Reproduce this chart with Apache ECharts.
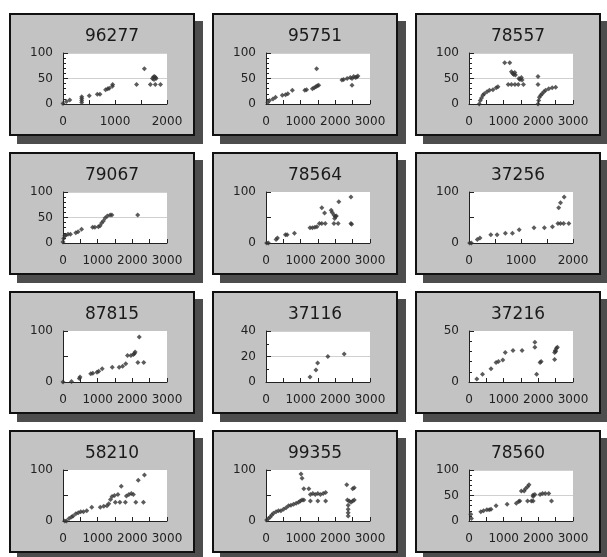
<!DOCTYPE html>
<html><head><meta charset="utf-8">
<script src="https://cdn.jsdelivr.net/npm/echarts@6/dist/echarts.min.js"></script>
<style>html,body{margin:0;padding:0;background:#fff}#c{width:607px;height:557px}</style>
</head><body><div id="c"></div>
<script>
const titles = ['96277','95751','78557','79067','78564','37256','87815','37116','37216','58210','99355','78560'];
const xMax = [2000,3000,3000,3000,3000,2000,3000,3000,3000,3000,3000,3000];
const yMax = [100,100,100,100,100,100,100,40,50,100,100,100];
const yInterval = [50,50,50,50,50,50,50,20,50,50,50,50];
const yLabelStep = [50,50,50,50,100,100,100,20,50,100,100,50];
const yMinorSplit = [5,5,5,5,0,0,0,2,5,0,0,5];
const yGridShow = [1,1,1,1,0,0,0,1,0,0,0,1];
const xTickStep = 500;
const xLabelStep = 1000;

const d96277 = [[0,1],[66,5],[130,8],[360,3],[360,7],[360,11],[360,14],[505,16],[660,19],[710,19],[820,28],[860,30],[890,31],[950,35],[955,38],[1415,38],[1565,69],[1680,38],[1775,38],[1875,38],[1720,50],[1740,53],[1760,54],[1780,52],[1790,50],[1750,48]];
const d95751 = [[50,3],[100,7],[200,10],[275,13],[470,17],[565,18],[630,20],[760,27],[1120,27],[1170,28],[1340,30],[1390,32],[1440,34],[1480,36],[1520,37],[1460,69],[2190,47],[2240,48],[2340,50],[2430,52],[2480,50],[2530,54],[2580,52],[2620,53],[2650,55],[2480,37]];
const d78557 = [[295,0],[325,7],[360,12],[400,17],[440,20],[520,24],[590,27],[690,28],[785,32],[835,34],[1030,81],[1175,81],[1225,63],[1260,60],[1290,58],[1320,62],[1340,57],[1440,50],[1470,48],[1510,52],[1530,47],[1130,38],[1225,38],[1325,38],[1420,38],[1570,38],[1990,54],[1990,38],[1990,0],[2010,7],[2030,13],[2070,17],[2110,20],[2160,24],[2210,27],[2300,30],[2400,32],[2500,33]];
const d79067 = [[0,2],[20,9],[50,14],[80,15],[145,17],[215,17],[370,20],[435,22],[535,27],[855,31],[920,31],[1020,32],[1070,34],[1115,39],[1165,43],[1215,49],[1280,53],[1360,55],[1410,55],[2155,55]];
const d78564 = [[20,0],[70,0],[290,7],[330,10],[560,16],[610,16],[820,19],[1270,30],[1340,30],[1410,31],[1470,32],[1540,38],[1610,38],[1710,38],[1610,69],[1690,59],[1880,64],[1910,60],[1960,55],[2000,52],[2030,53],[1980,48],[1960,38],[2080,38],[2100,81],[2450,90],[2450,38],[2470,37]];
const d37256 = [[13,0],[46,0],[160,7],[210,10],[420,16],[540,16],[700,19],[835,19],[965,26],[1250,30],[1450,30],[1605,32],[1710,38],[1760,38],[1820,38],[1920,38],[1725,69],[1760,79],[1830,90]];
const d87815 = [[0,0],[245,1],[470,7],[490,10],[800,16],[860,17],[980,19],[1030,21],[1130,26],[1420,29],[1620,29],[1720,31],[1810,36],[1860,52],[1960,52],[2030,54],[2060,56],[2080,59],[2160,38],[2330,38],[2200,88]];
const d37116 = [[1270,4],[1440,9.5],[1490,15],[1785,20],[2255,22]];
const d37216 = [[225,3],[390,7.5],[635,13],[780,19],[850,20],[975,21.5],[1045,29],[1270,31],[1530,31],[1900,39],[1900,34],[1950,7.5],[2050,19],[2080,20],[2470,22],[2470,29],[2490,31],[2520,33],[2550,34],[2500,30]];
const d58210 = [[50,0],[100,0],[175,5],[245,8],[290,10],[370,14],[440,16],[510,18],[590,18],[685,20],[830,27],[1075,27],[1175,29],[1270,30],[1320,34],[1370,42],[1415,48],[1485,50],[1585,52],[1680,68],[1510,37],[1640,37],[1800,37],[1830,49],[1900,52],[1970,54],[2030,52],[2100,37],[2320,37],[2170,80],[2350,90]];
const d99355 = [[20,2],[70,5],[120,8],[165,12],[215,15],[290,18],[360,20],[430,20],[505,23],[580,26],[650,30],[720,31],[795,33],[870,35],[940,37],[990,39],[1040,41],[1010,92],[1040,84],[1090,63],[1235,63],[1280,52],[1350,54],[1420,52],[1495,54],[1570,52],[1650,54],[1720,56],[1090,41],[1280,39],[1495,39],[1720,39],[2330,71],[2500,63],[2545,65],[2350,41],[2400,39],[2450,37],[2500,39],[2545,41],[2370,31],[2370,23],[2370,16],[2370,10]];
const d78560 = [[50,13],[70,5],[340,18],[420,20],[515,22],[585,22],[635,23],[780,30],[1100,33],[1365,35],[1435,38],[1465,39],[1510,59],[1590,59],[1630,63],[1690,67],[1730,71],[1690,39],[1800,39],[1850,39],[1850,51],[1900,52],[1850,48],[2050,52],[2120,54],[2200,54],[2300,54],[2380,39]];
const panelData = [d96277,d95751,d78557,d79067,d78564,d37256,d87815,d37116,d37216,d58210,d99355,d78560];

const FONT = 'DejaVu Sans';
const colLeft = [9, 212, 415];
const rowTop = [13, 152, 291, 430];
const PW = 186, PH = 123, SH = 8;
const plotDX = 54, plotDY = 40, plotW = 104, plotH = 51;

const grids = [], xAxes = [], yAxes = [], series = [], titleArr = [], graphics = [];
titles.forEach((t, i) => {
  const c = i % 3, r = Math.floor(i / 3);
  const L = colLeft[c], T = rowTop[r];
  graphics.push({type:'rect', z:-10, shape:{x:L+SH, y:T+SH, width:PW, height:PH}, style:{fill:'#4d4d4d'}, silent:true});
  graphics.push({type:'rect', z:-9, shape:{x:L+1, y:T+1, width:PW-2, height:PH-2}, style:{fill:'#c3c3c3', stroke:'#111', lineWidth:2}, silent:true});
  grids.push({left:L+plotDX, top:T+plotDY, width:plotW, height:plotH, show:true, backgroundColor:'#fff', borderWidth:0, containLabel:false});
  titleArr.push({text:t, left:L+98, top:T+10, textAlign:'center', textStyle:{fontFamily:FONT, fontSize:17, fontWeight:'normal', color:'#1a1a1a'}});
  xAxes.push({
    type:'value', gridIndex:i, min:0, max:xMax[i], interval:xTickStep,
    axisLine:{show:true, lineStyle:{color:'#222', width:1}},
    axisTick:{show:true, inside:true, length:4, lineStyle:{color:'#222'}},
    splitLine:{show:false},
    axisLabel:{margin:12, fontFamily:FONT, fontSize:12, color:'#222', formatter:v => (v % xLabelStep === 0 ? String(v) : '')}
  });
  yAxes.push({
    type:'value', gridIndex:i, min:0, max:yMax[i], interval:yInterval[i],
    axisLine:{show:true, lineStyle:{color:'#222', width:1}},
    axisTick:{show:true, inside:true, length:5, lineStyle:{color:'#222'}},
    minorTick:{show:yMinorSplit[i] > 0, splitNumber:yMinorSplit[i] || 5, length:3, lineStyle:{color:'#222'}},
    splitLine:{show:!!yGridShow[i], lineStyle:{color:'#d0d0d0', width:1}},
    axisLabel:{margin:10, padding:[6,0,0,0], fontFamily:FONT, fontSize:12, color:'#222', formatter:v => (v % yLabelStep[i] === 0 ? String(v) : '')}
  });
  series.push({type:'scatter', xAxisIndex:i, yAxisIndex:i, data:panelData[i], symbol:'diamond', symbolSize:5, itemStyle:{color:'#333'}, silent:true, animation:false});
});

const chart = echarts.init(document.getElementById('c'), null, {renderer:'canvas'});
chart.setOption({
  animation:false, backgroundColor:'#fff',
  title:titleArr, grid:grids, xAxis:xAxes, yAxis:yAxes, series:series,
  graphic:{elements:graphics}
});
</script></body></html>
